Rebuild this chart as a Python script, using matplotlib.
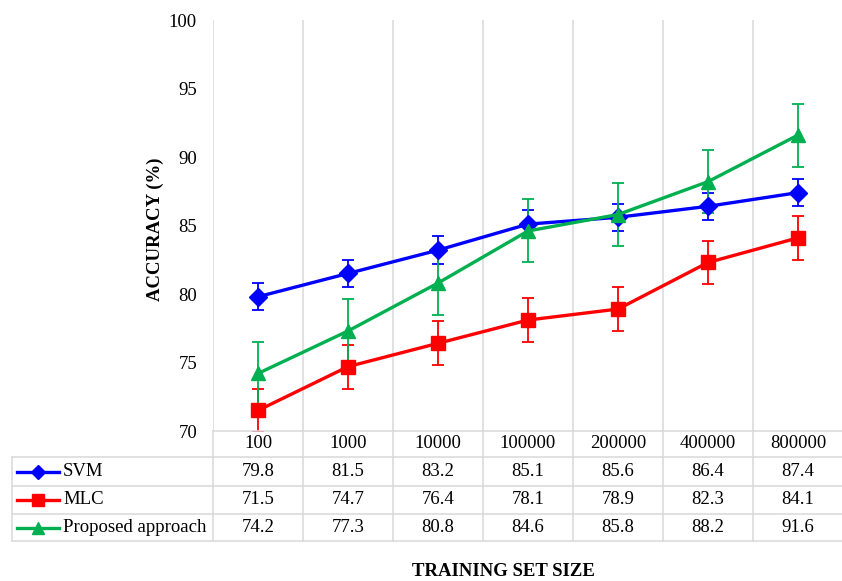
import matplotlib
matplotlib.use('Agg')
import matplotlib.pyplot as plt
from matplotlib.transforms import blended_transform_factory
from matplotlib.lines import Line2D

plt.rcParams['font.family'] = ['Liberation Serif', 'DejaVu Serif']

categories = ['100', '1000', '10000', '100000', '200000', '400000', '800000']
series_names = ['SVM', 'MLC', 'Proposed approach']
svm = [79.8, 81.5, 83.2, 85.1, 85.6, 86.4, 87.4]
mlc = [71.5, 74.7, 76.4, 78.1, 78.9, 82.3, 84.1]
proposed = [74.2, 77.3, 80.8, 84.6, 85.8, 88.2, 91.6]
svm_err = [1.0] * 7
mlc_err = [1.6] * 7
proposed_err = [2.3] * 7
y_ticks = [70, 75, 80, 85, 90, 95, 100]

series = [svm, mlc, proposed]
errors = [svm_err, mlc_err, proposed_err]
colors = ['#0000FF', '#FF0000', '#00B050']
markers = ['D', 's', '^']
msizes = [9, 10, 10]
grid_c = '#D9D9D9'
fs = 13.5

W, H = 842, 581
fig = plt.figure(figsize=(W / 100, H / 100), dpi=100)
ax = fig.add_axes([213 / W, (H - 431) / H, 630 / W, 411 / H])

x = list(range(len(categories)))
for vals, err, c, m, ms in zip(series, errors, colors, markers, msizes):
    ax.errorbar(x, vals, yerr=err, color=c, ecolor=c, elinewidth=1.3, capsize=4,
                capthick=1.3, lw=2.4, marker=m, markersize=ms, zorder=3)

ax.set_xlim(-0.5, len(categories) - 0.5)
ax.set_ylim(70, 100)
ax.set_yticks(y_ticks)
ax.set_yticklabels([str(t) for t in y_ticks], fontsize=fs)
ax.tick_params(axis='y', length=0, pad=11.5)
ax.set_xticks([])
for s in ax.spines.values():
    s.set_visible(False)
for k in range(len(categories) + 1):
    ax.axvline(k - 0.5, color=grid_c, lw=1.1, zorder=1)

# table below the plot
bt = blended_transform_factory(ax.transData, fig.transFigure)
ft = fig.transFigure

def fy(py):
    return 1 - py / H

def fx(px):
    return px / W

# horizontal lines
fig.add_artist(Line2D([-0.5, len(categories) - 0.5], [fy(431), fy(431)], transform=bt,
                      color=grid_c, lw=1.1))
for py in [457, 486, 514, 541]:
    fig.add_artist(Line2D([fx(12), fx(845)], [fy(py), fy(py)], transform=ft,
                          color=grid_c, lw=1.1))
# vertical lines
for k in range(len(categories) + 1):
    fig.add_artist(Line2D([k - 0.5, k - 0.5], [fy(431), fy(541)], transform=bt,
                          color=grid_c, lw=1.1))
fig.add_artist(Line2D([fx(12), fx(12)], [fy(457), fy(541)], transform=ft,
                      color=grid_c, lw=1.1))

# header row
for i, cat in enumerate(categories):
    fig.text(i, fy(444), cat, transform=bt, ha='center', va='center', fontsize=fs)

row_centers = [471.5, 500, 527.5]
for r, (name, vals, c, m, ms) in enumerate(zip(series_names, series, colors, markers, msizes)):
    yc = fy(row_centers[r])
    fig.add_artist(Line2D([fx(17), fx(59)], [yc, yc], transform=ft, color=c, lw=2.4))
    fig.add_artist(Line2D([fx(38)], [yc], transform=ft, color=c, marker=m,
                          markersize=ms * 0.8, lw=0))
    fig.text(fx(63), yc, name, transform=ft, ha='left', va='center', fontsize=fs)
    for i, v in enumerate(vals):
        fig.text(i, yc, f'{v:.1f}', transform=bt, ha='center', va='center', fontsize=fs)

fig.text(fx(155), fy(229), 'ACCURACY (%)', rotation=90, ha='center', va='center',
         fontsize=fs, fontweight='bold')
fig.text(fx(503), fy(572), 'TRAINING SET SIZE', ha='center', va='center',
         fontsize=fs, fontweight='bold')

fig.savefig('out.png', dpi=100)
